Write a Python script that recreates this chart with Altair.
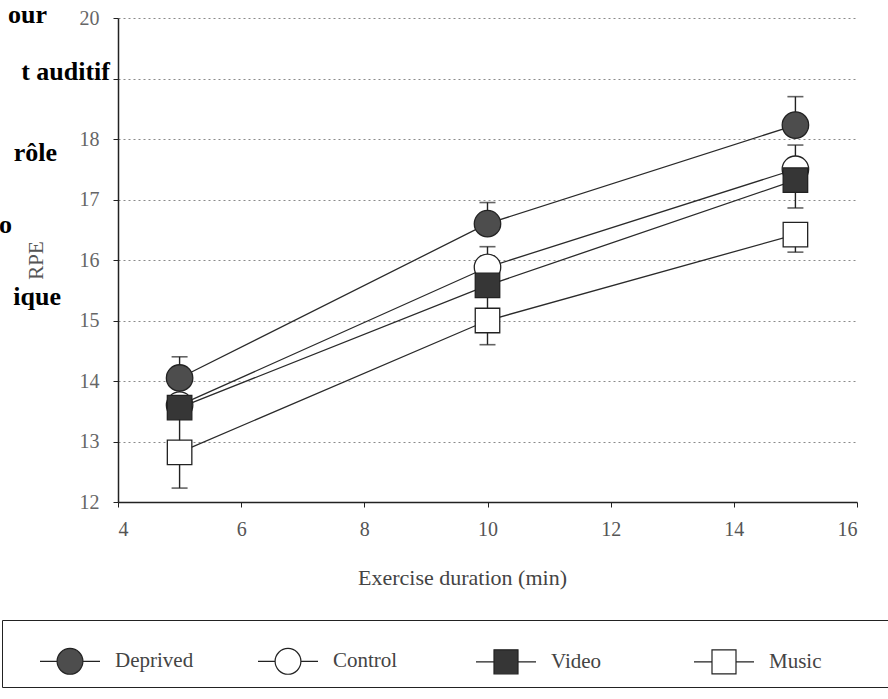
import altair as alt
import pandas as pd

series_names = ["Deprived", "Control", "Video", "Music"]
durations = [5, 10, 15]

deprived_rpe = [14.05, 16.6, 18.23]
deprived_err = [14.4, 16.95, 18.7]
control_rpe = [13.6, 15.88, 17.5]
control_err = [13.95, 16.22, 17.9]
video_rpe = [13.56, 15.58, 17.32]
video_err = [13.0, 15.15, 16.86]
music_rpe = [12.82, 15.0, 16.42]
music_err = [12.23, 14.6, 16.13]

fill_colors = ["#4d4d4d", "#ffffff", "#363636", "#ffffff"]
marker_shapes = ["circle", "circle", "square", "square"]

side_texts = ["our", "t auditif", "rôle", "o", "ique"]
side_rpe = [20.05, 19.1, 17.77, 16.58, 15.39]
side_right = [47, 110, 57, 12, 61]

rows = []
for name, vals, errs, shp in zip(
    series_names,
    [deprived_rpe, control_rpe, video_rpe, music_rpe],
    [deprived_err, control_err, video_err, music_err],
    marker_shapes,
):
    for d, v, e in zip(durations, vals, errs):
        rows.append({"series": name, "duration": d, "rpe": v, "err": e, "shape": shp})
df = pd.DataFrame(rows)

side_df = pd.DataFrame({"text": side_texts, "rpe": side_rpe, "right": [r - 118 for r in side_right]})

line_circle = "M-1,0H-0.43M0.43,0H1M0.43,0A0.43,0.43,0,1,1,-0.43,0A0.43,0.43,0,1,1,0.43,0Z"
line_square = "M-1,0H-0.4M0.4,0H1M-0.4,-0.4H0.4V0.4H-0.4Z"
legend_paths = [line_circle, line_circle, line_square, line_square]

serif = "Liberation Serif, Times New Roman, serif"
pad = "\u00a0" * 11 + "\u200b"

legend = alt.Legend(
    title=" ",
    titleOrient="left",
    titlePadding=27,
    orient="none",
    legendX=-116,
    legendY=602,
    direction="horizontal",
    columns=4,
    gridAlign="all",
    columnPadding=29,
    padding=10,
    strokeColor="#222222",
    labelFont=serif,
    labelFontSize=21,
    labelColor="#444444",
    labelOffset=14,
    labelExpr="datum.label == 'Music' ? datum.label + '" + pad + "' : datum.label",
    symbolSize=3600,
    symbolStrokeWidth=1.2,
    symbolStrokeColor="#222222",
)

x_enc = alt.X(
    "duration:Q",
    scale=alt.Scale(domain=[4, 16], nice=False, zero=False),
    axis=alt.Axis(
        values=[4, 6, 8, 10, 12, 14, 16],
        title="Exercise duration (min)",
        grid=False,
        domainColor="#222222",
        domainWidth=1.5,
        tickColor="#222222",
        tickSize=5,
        labelFont=serif,
        labelFontSize=20,
        labelColor="#555555",
        labelPadding=12,
        titleFont=serif,
        titleFontSize=22,
        titleFontWeight="normal",
        titleColor="#444444",
        titlePadding=28,
        titleX=344,
    ),
)
y_enc = alt.Y(
    "rpe:Q",
    scale=alt.Scale(domain=[12, 20], nice=False, zero=False),
    axis=alt.Axis(
        values=list(range(12, 21)),
        format="d",
        title="RPE",
        labelExpr="datum.value == 19 ? '' : datum.label",
        grid=True,
        gridDash=[2, 3],
        gridColor="#8a8a8a",
        gridWidth=1,
        domainColor="#222222",
        domainWidth=1.5,
        tickColor="#222222",
        tickSize=5,
        labelFont=serif,
        labelFontSize=20,
        labelColor="#666666",
        labelPadding=14,
        titleFont=serif,
        titleFontSize=21,
        titleFontWeight="normal",
        titleColor="#555555",
        titlePadding=33,
    ),
)

fill_enc = alt.Fill(
    "series:N",
    scale=alt.Scale(domain=series_names, range=fill_colors),
    legend=legend,
)

base = alt.Chart(df)

legend_layer = base.mark_point(filled=True, opacity=1).encode(
    x=x_enc,
    y=y_enc,
    fill=fill_enc,
    stroke=alt.Stroke(
        "series:N",
        scale=alt.Scale(domain=series_names, range=["#222222"] * 4),
        legend=legend,
    ),
    shape=alt.Shape("series:N", scale=alt.Scale(domain=series_names, range=legend_paths), legend=legend),
).transform_filter("datum.duration < 0")

lines = base.mark_line(color="#2a2a2a", strokeWidth=1.3).encode(
    x=x_enc, y=y_enc, detail="series:N"
)

err_rules = base.mark_rule(color="#222222", strokeWidth=1.4).encode(
    x=x_enc, y=y_enc, y2="err:Q"
)
err_caps = base.mark_tick(color="#222222", orient="horizontal", size=16, thickness=1.6).encode(
    x=x_enc, y=alt.Y("err:Q")
)

circles = base.mark_point(
    filled=True, shape="circle", size=700, stroke="#222222", strokeWidth=1.3, opacity=1
).encode(x=x_enc, y=y_enc, fill=fill_enc).transform_filter("datum.shape == 'circle'")

squares = base.mark_point(
    filled=True, shape="square", size=600, stroke="#222222", strokeWidth=1.3, opacity=1
).encode(x=x_enc, y=y_enc, fill=fill_enc).transform_filter("datum.shape == 'square'")

side = alt.Chart(side_df).mark_text(
    font=serif, fontSize=26, fontWeight="bold", align="right", baseline="middle", color="#000000"
).encode(
    x=alt.X("right:Q", scale=None),
    y=y_enc,
    text="text:N",
)

chart = (
    alt.layer(legend_layer, lines, err_rules, err_caps, circles, squares, side)
    .properties(
        width=739,
        height=484,
        autosize=alt.AutoSizeParams(type="none"),
        padding={"left": 118, "top": 18, "right": 31, "bottom": 197},
        background="white",
    )
    .configure_view(stroke=None)
)

chart.save("out.html", embed_options={"renderer": "svg", "actions": False})
